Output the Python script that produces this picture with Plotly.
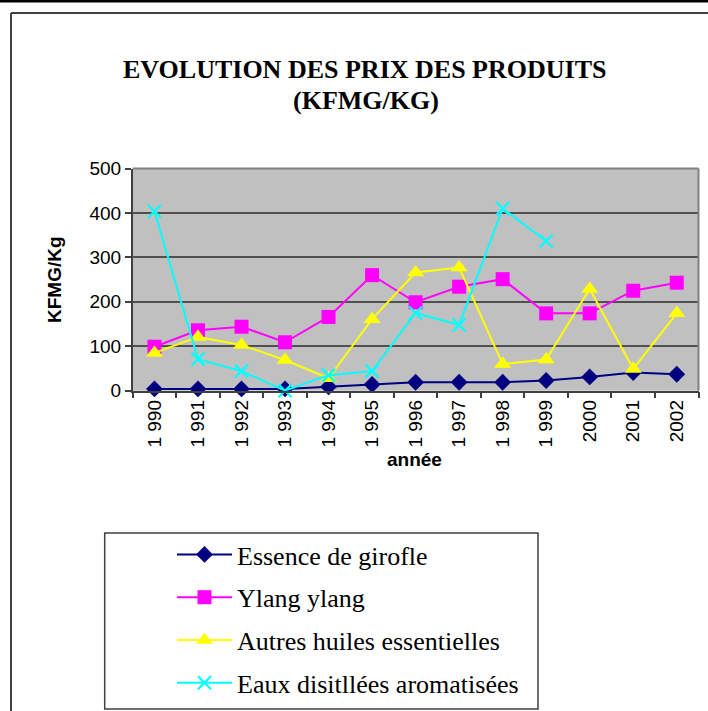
import plotly.graph_objects as go

W, H = 708, 711

years = ["1 990", "1 991", "1 992", "1 993", "1 994", "1 995", "1 996",
         "1 997", "1 998", "1 999", "2000", "2001", "2002"]

girofle = [4, 4, 4, 4, 9, 14, 19, 19, 19, 23, 31, 41, 37]
ylang = [99, 136, 144, 109, 166, 260, 199, 234, 251, 174, 174, 225, 243]
autres = [85, 121, 103, 69, 28, 161, 266, 277, 60, 70, 229, 49, 174]
eaux = [404, 71, 44, 0, 35, 44, 175, 148, 410, 337, None, None, None]

names = ["Essence de girofle", "Ylang ylang", "Autres huiles essentielles",
         "Eaux disitllées aromatisées"]

def px(x):
    return x / W

def py(y):
    return (H - y) / H

fig = go.Figure()

styles = [
    dict(color="#000080", symbol="diamond", size=13, lw=2),
    dict(color="#FF00FF", symbol="square", size=14, lw=2),
    dict(color="#FFFF00", symbol="triangle-up", size=15, lw=2),
    dict(color="#00FFFF", symbol="x-thin-open", size=13, lw=2),
]
series = [girofle, ylang, autres, eaux]

for i, (nm, vals, st) in enumerate(zip(names, series, styles)):
    marker = dict(symbol=st["symbol"], size=st["size"], color=st["color"])
    if st["symbol"] == "x-thin-open":
        marker["line"] = dict(color=st["color"], width=2.2)
    fig.add_trace(go.Scatter(
        x=years, y=vals, name=nm, mode="lines+markers",
        line=dict(color=st["color"], width=st["lw"]),
        marker=marker, cliponaxis=False, connectgaps=False,
        legendgroup=f"g{i}",
    ))

axis_font = dict(family="Liberation Sans, Arial, sans-serif", size=19, color="black")

fig.update_layout(
    width=W, height=H,
    margin=dict(l=0, r=0, t=0, b=0, autoexpand=False),
    paper_bgcolor="white",
    plot_bgcolor="#C0C0C0",
    showlegend=True,
    legend=dict(
        x=px(172), y=py(531), xanchor="left", yanchor="top",
        bgcolor="rgba(0,0,0,0)", borderwidth=0,
        font=dict(family="Liberation Serif, Times New Roman, serif", size=26, color="black"),
        tracegroupgap=6, itemwidth=55,
    ),
    xaxis=dict(
        domain=[px(132.7), px(698.5)],
        type="category", range=[-0.5, 12.5], automargin=False,
        tickangle=-90, tickfont=axis_font,
        ticks="outside", ticklen=6, tickcolor="#404040", tickwidth=1.5,
        tickson="boundaries",
        showline=True, linecolor="#404040", linewidth=1.5,
        mirror=False, showgrid=False, zeroline=False,
    ),
    yaxis=dict(
        domain=[py(390.7), py(168.5)],
        range=[0, 500], dtick=100, tick0=0, automargin=False,
        tickfont=axis_font,
        ticks="outside", ticklen=6, tickcolor="#404040", tickwidth=1.5,
        showline=True, linecolor="#404040", linewidth=1.5,
        showgrid=True, gridcolor="#505050", gridwidth=1.5,
        zeroline=False,
    ),
    annotations=[
        dict(text="<b>EVOLUTION DES PRIX DES PRODUITS</b>", x=px(364), y=py(70),
             xref="paper", yref="paper", showarrow=False, xanchor="center", yanchor="middle",
             font=dict(family="Liberation Serif, Times New Roman, serif", size=26, color="black")),
        dict(text="<b>(KFMG/KG)</b>", x=px(366), y=py(101),
             xref="paper", yref="paper", showarrow=False, xanchor="center", yanchor="middle",
             font=dict(family="Liberation Serif, Times New Roman, serif", size=26, color="black")),
        dict(text="<b>KFMG/Kg</b>", x=px(54), y=py(280), textangle=-90,
             xref="paper", yref="paper", showarrow=False, xanchor="center", yanchor="middle",
             font=dict(family="Liberation Sans, Arial, sans-serif", size=19, color="black")),
        dict(text="<b>année</b>", x=px(415), y=py(460),
             xref="paper", yref="paper", showarrow=False, xanchor="center", yanchor="middle",
             font=dict(family="Liberation Sans, Arial, sans-serif", size=19, color="black")),
    ],
    shapes=[
        dict(type="line", xref="paper", yref="paper", x0=0, x1=1, y0=py(1), y1=py(1),
             line=dict(color="black", width=3)),
        dict(type="line", xref="paper", yref="paper", x0=px(11), x1=1, y0=py(13), y1=py(13),
             line=dict(color="#404040", width=2)),
        dict(type="line", xref="paper", yref="paper", x0=px(11), x1=px(11), y0=py(13), y1=0,
             line=dict(color="#404040", width=2)),
        dict(type="line", xref="paper", yref="paper", x0=px(132.7), x1=px(698.5),
             y0=py(168.5), y1=py(168.5), line=dict(color="#808080", width=2)),
        dict(type="line", xref="paper", yref="paper", x0=px(698.5), x1=px(698.5),
             y0=py(168.5), y1=py(390.7), line=dict(color="#808080", width=2)),
        dict(type="rect", xref="paper", yref="paper", x0=px(104.7), x1=px(538),
             y0=py(709), y1=py(533), line=dict(color="#404040", width=1.5),
             fillcolor="rgba(0,0,0,0)"),
    ],
)

post = (
    "document.documentElement.style.margin='0';"
    "document.body.style.margin='0';"
    "document.body.style.overflow='hidden';"
)

fig.write_html("out.html", config={"displayModeBar": False}, post_script=post)
